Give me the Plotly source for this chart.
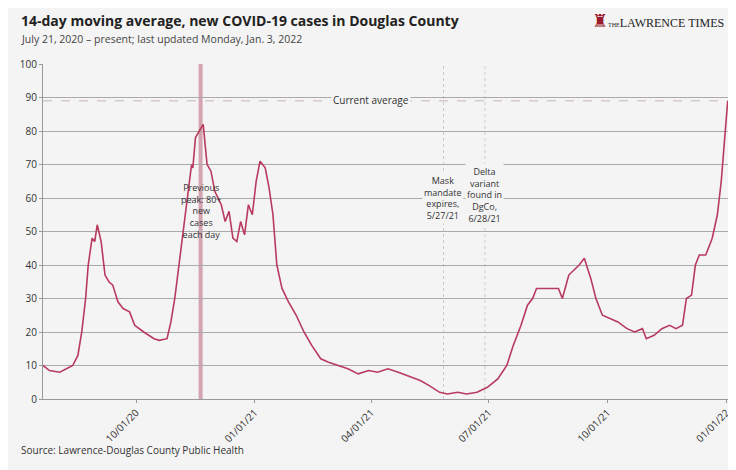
import pandas as pd
import plotly.graph_objects as go

start = pd.Timestamp("2020-07-21")
day_offsets = [0, 5, 13, 18, 23, 27, 30, 33, 35, 38, 40, 42, 45, 48, 51, 54, 58, 62, 67, 71,
               78, 86, 90, 96, 99, 102, 107, 112, 115, 116, 118, 121, 124, 127, 130, 133, 138,
               141, 144, 147, 150, 153, 156, 159, 162, 165, 168, 172, 175, 178, 181, 185, 190,
               196, 202, 208, 215, 221, 228, 236, 244, 252, 259, 267, 275, 282, 292, 299, 307,
               313, 321, 328, 336, 344, 352, 359, 364, 370, 375, 379, 382, 390, 399, 402, 407,
               415, 419, 424, 428, 433, 439, 445, 452, 458, 464, 467, 473, 479, 485, 490, 495,
               498, 502, 505, 508, 513, 518, 522, 525, 528, 530]
cases = [10, 8.5, 8, 9, 10, 13, 20, 30, 40, 48, 47, 52, 47, 37, 35, 34, 29, 27, 26, 22,
         20, 18, 17.5, 18, 23, 30, 45, 60, 70, 69, 78, 80, 82, 70, 68, 62, 58,
         53, 56, 48, 47, 53, 49, 58, 55, 65, 71, 69, 63, 55, 40, 33, 29,
         25, 20, 16, 12, 11, 10, 9, 7.5, 8.5, 8, 9, 8, 7, 5.5, 4, 2,
         1.5, 2, 1.5, 2, 3.5, 6, 10, 16, 22, 28, 30, 33, 33, 33, 30, 37,
         40, 42, 36, 30, 25, 24, 23, 21, 20, 21, 18, 19, 21, 22, 21, 22,
         30, 31, 40, 43, 43, 48, 55, 65, 80, 89]
dates = [start + pd.Timedelta(days=d) for d in day_offsets]

current_avg = 89
peak_date = "2020-11-20"
mask_date = "2021-05-27"
delta_date = "2021-06-28"
tick_dates = ["2020-10-01", "2021-01-01", "2021-04-01", "2021-07-01", "2021-10-01", "2022-01-01"]
tick_text = ["10/01/20", "01/01/21", "04/01/21", "07/01/21", "10/01/21", "01/01/22"]

bg = "#f4f4f4"
line_col = "#b83a5e"
font = "Open Sans"

fig = go.Figure()
fig.add_trace(go.Scatter(x=dates, y=cases, mode="lines",
                         line=dict(color=line_col, width=1.6), showlegend=False))

fig.add_shape(type="line", xref="x", yref="y", x0=peak_date, x1=peak_date, y0=0, y1=100,
              line=dict(color="#d4a3b0", width=4), layer="below")
for d in [mask_date, delta_date]:
    fig.add_shape(type="line", xref="x", yref="y", x0=d, x1=d, y0=0, y1=100,
                  line=dict(color="#cccccc", width=1, dash="dot"), layer="below")
fig.add_shape(type="line", xref="paper", yref="y", x0=0, x1=1, y0=current_avg, y1=current_avg,
              line=dict(color="#c8b4ba", width=1, dash="dash"), layer="below")

ann_font = dict(family=font, size=9, color="#333")
fig.add_annotation(x="2021-04-01", y=current_avg, text="Current average", showarrow=False,
                   bgcolor=bg, font=dict(family=font, size=10, color="#333"), yshift=1)
fig.add_annotation(x=peak_date, y=56, text="Previous<br>peak: 80+<br>new<br>cases<br>each day",
                   showarrow=False, font=ann_font)
fig.add_annotation(x=mask_date, y=60, text="Mask<br>mandate<br>expires,<br>5/27/21",
                   showarrow=False, bgcolor=bg, font=ann_font)
fig.add_annotation(x=delta_date, y=61, text="Delta<br>variant<br>found in<br>DgCo,<br>6/28/21",
                   showarrow=False, bgcolor=bg, font=ann_font)

fig.add_annotation(xref="paper", yref="paper", x=-0.035, y=1.165, xanchor="left",
                   text="<b>14-day moving average, new COVID-19 cases in Douglas County</b>",
                   showarrow=False, font=dict(family=font, size=14, color="#222"))
fig.add_annotation(xref="paper", yref="paper", x=-0.035, y=1.1, xanchor="left",
                   text="July 21, 2020 – present; last updated Monday, Jan. 3, 2022",
                   showarrow=False, font=dict(family=font, size=10.5, color="#444"))
fig.add_annotation(xref="paper", yref="paper", x=0.995, y=1.165, xanchor="right",
                   text="<span style='color:#9b1c2e;font-size:18px'>♜</span><span style='font-size:6px'>THE</span>LAWRENCE TIMES",
                   showarrow=False, font=dict(family="Liberation Serif", size=12, color="#222"))
fig.add_annotation(xref="paper", yref="paper", x=-0.035, y=-0.18, xanchor="left",
                   text="Source: Lawrence-Douglas County Public Health",
                   showarrow=False, font=dict(family=font, size=10, color="#333"))

fig.update_layout(
    width=736, height=470,
    margin=dict(l=33, r=14, t=56, b=79),
    paper_bgcolor=bg, plot_bgcolor=bg,
    font=dict(family=font, size=10, color="#333"),
    xaxis=dict(range=["2020-07-21", "2022-01-03"], tickvals=tick_dates, ticktext=tick_text,
               tickangle=-45, showgrid=False, showline=True, linecolor="#999",
               ticks="outside", ticklen=3, tickcolor="#999"),
    yaxis=dict(range=[0, 100], dtick=10, gridcolor="#aaaaaa", gridwidth=1,
               showline=True, linecolor="#999", zeroline=False,
               ticks="outside", ticklen=3, tickcolor="#999"),
)
fig.write_html("out.html")
